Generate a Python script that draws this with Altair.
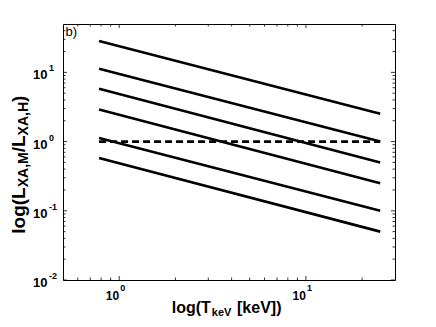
import altair as alt
import pandas as pd

# ---- data ----
T_span = [0.78, 25.0]                      # start / end temperature of each curve (keV)
L_start = [28.4, 11.3, 5.8, 2.91, 1.13, 0.58]
L_end = [2.52, 1.0, 0.50, 0.25, 0.10, 0.05]
ref_level = [1.0, 1.0]                      # dashed line at ratio 1

x_major = [1, 10]
x_major_exp = ["0", "1"]
x_minor = [0.6, 0.7, 0.8, 0.9, 2, 3, 4, 5, 6, 7, 8, 9, 20]
y_major = [0.01, 0.1, 1, 10]
y_major_exp = ["-2", "-1", "0", "1"]
y_minor = [0.02, 0.03, 0.04, 0.05, 0.06, 0.07, 0.08, 0.09,
           0.2, 0.3, 0.4, 0.5, 0.6, 0.7, 0.8, 0.9,
           2, 3, 4, 5, 6, 7, 8, 9, 20, 30, 40]

W, H = 332, 256
FONT = "Liberation Sans"

rows = []
for i, (a, b) in enumerate(zip(L_start, L_end)):
    rows.append({"s": i, "T": T_span[0], "L": a})
    rows.append({"s": i, "T": T_span[1], "L": b})
lines_df = pd.DataFrame(rows)
ref_df = pd.DataFrame({"T": T_span, "L": ref_level})

xs = alt.Scale(type="log", domain=[0.5, 30], nice=False)
ys = alt.Scale(type="log", domain=[0.01, 50], nice=False)
X = lambda f: alt.X(f, scale=xs, axis=None)
Y = lambda f: alt.Y(f, scale=ys, axis=None)

solid = alt.Chart(lines_df).mark_line(color="black", strokeWidth=2.6).encode(
    x=X("T:Q"), y=Y("L:Q"), detail="s:N")
dashed = alt.Chart(ref_df).mark_line(color="black", strokeWidth=2.6, strokeDash=[7, 4]).encode(
    x=X("T:Q"), y=Y("L:Q"))

def xticks(vals, ln):
    d = pd.DataFrame({"v": vals})
    b = alt.Chart(d).mark_rule(color="black", strokeWidth=0.8).encode(
        x=X("v:Q"), y=alt.value(H), y2=alt.value(H - ln))
    t = alt.Chart(d).mark_rule(color="black", strokeWidth=0.8).encode(
        x=X("v:Q"), y=alt.value(0), y2=alt.value(ln))
    return [b, t]

def yticks(vals, ln):
    d = pd.DataFrame({"v": vals})
    l = alt.Chart(d).mark_rule(color="black", strokeWidth=0.8).encode(
        y=Y("v:Q"), x=alt.value(0), x2=alt.value(ln))
    r = alt.Chart(d).mark_rule(color="black", strokeWidth=0.8).encode(
        y=Y("v:Q"), x=alt.value(W), x2=alt.value(W - ln))
    return [l, r]

xdf = pd.DataFrame({"v": x_major, "e": x_major_exp})
ydf = pd.DataFrame({"v": y_major, "e": y_major_exp})

x_base = alt.Chart(xdf).mark_text(font=FONT, fontSize=12, fontWeight="bold", align="right",
                                  baseline="alphabetic").encode(
    x=X("v:Q"), y=alt.value(H + 20), text=alt.value("10"))
x_exp = alt.Chart(xdf).mark_text(font=FONT, fontSize=9, fontWeight="bold", align="left",
                                 baseline="alphabetic", dx=1).encode(
    x=X("v:Q"), y=alt.value(H + 11), text="e:N")
y_base = alt.Chart(ydf).mark_text(font=FONT, fontSize=13, fontWeight="bold", align="right",
                                  baseline="alphabetic", dy=7).encode(
    y=Y("v:Q"), x=alt.value(-15.5), text=alt.value("10"))
y_exp = alt.Chart(ydf).mark_text(font=FONT, fontSize=9, fontWeight="bold", align="left",
                                 baseline="alphabetic", dy=-1).encode(
    y=Y("v:Q"), x=alt.value(-14), text="e:N")

one = pd.DataFrame({"k": [0]})

def label(txt, x, y, size, angle=0, weight="bold"):
    kw = dict(font=FONT, fontSize=size, fontWeight=weight, align="left", baseline="alphabetic")
    if angle:
        kw["angle"] = angle
    return alt.Chart(one).mark_text(**kw).encode(
        x=alt.value(x), y=alt.value(y), text=alt.value(txt))

# x-axis title: log(T_keV [keV])
xt = [
    label("log(T", 108.8, H + 32.5, 16),
    label("keV", 148.8, H + 35.5, 11),
    label("[keV])", 174.0, H + 32.5, 16),
]
# y-axis title: log(L_XA,M / L_XA,H), rotated
YB, YS = -38.5, -35.0
yt = [
    label("log(L", YB, 209.7, 19, 270),
    label("XA,M", YS, 163.3, 14, 270),
    label("/L", YB, 128.3, 19, 270),
    label("XA,H", YS, 111.4, 14, 270),
    label(")", YB, 78.0, 19, 270),
]
panel = label("b)", 2.5, 11.5, 13, weight="normal")

layers = ([solid, dashed] + xticks(x_major, 4) + xticks(x_minor, 2.5)
          + yticks(y_major, 4) + yticks(y_minor, 2.5)
          + [x_base, x_exp, y_base, y_exp] + xt + yt + [panel])

chart = alt.layer(*layers).properties(
    width=W, height=H,
    autosize=alt.AutoSizeParams(type="none"),
    padding={"left": 55, "top": 16, "right": 20, "bottom": 38},
    background="white",
).configure_view(stroke="black", strokeWidth=1)

chart.save("out.html", embed_options={"renderer": "svg", "actions": False})
